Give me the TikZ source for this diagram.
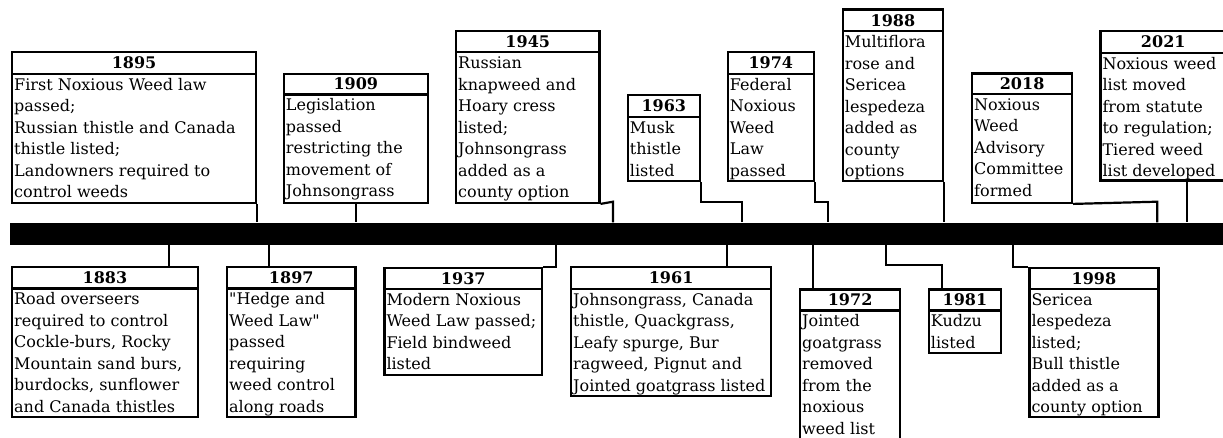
\documentclass[tikz,border=0pt]{standalone}
\usepackage{fontspec}
\setmainfont{DejaVu Serif}[Ligatures=TeXOff]
\tikzset{
  yearbox/.style={draw, line width=2.2pt, inner sep=0pt, font=\bfseries\fontsize{16}{21.5}\selectfont},
  bodybox/.style={draw, line width=2.2pt, inner sep=0pt},
  bodytext/.style={align=left, inner xsep=3pt, inner ysep=2.3pt, font=\fontsize{16}{21.5}\selectfont},
  link/.style={draw, line width=2.2pt},
  barstyle/.style={fill=black, draw=none, inner sep=0pt},
}
\newcommand\tlbox[8]{%
  \pgfmathsetmacro\tlw{#4-#2}%
  \pgfmathsetmacro\tlhh{#5-#3}%
  \pgfmathsetmacro\tlbh{#6-#5}%
  \node[yearbox, minimum width=\tlw pt, minimum height=\tlhh pt, anchor=north west] (#1h) at (#2,#3) {#7};
  \node[bodybox, minimum width=\tlw pt, minimum height=\tlbh pt, anchor=north west] (#1) at (#2,#5) {};
  \node[bodytext, anchor=north west] (#1t) at (#1.north west) {\strut #8};
}
\begin{document}
\begin{tikzpicture}[x=1pt, y=-1pt]
\useasboundingbox (0,0) rectangle (1223,437);
\fill[white] (0,0) rectangle (1223,437);

% timeline bar
\node[barstyle, minimum width=1215pt, minimum height=22pt, anchor=north west] (bar) at (10,222.3) {};

% upper events
\tlbox{e1895}{11}{51}{255}{72.7}{201.7}{1895}{First Noxious Weed law\\passed;\\Russian thistle and Canada\\thistle listed;\\Landowners required to\\control weeds}
\tlbox{e1909}{282.7}{72.7}{426.7}{93.3}{201.7}{1909}{Legislation\\passed\\restricting the\\movement of\\Johnsongrass}
\tlbox{e1945}{455}{30}{598.3}{51}{201.7}{1945}{Russian\\knapweed and\\Hoary cress\\listed;\\Johnsongrass\\added as a\\county option}
\tlbox{e1963}{626.7}{94}{698.7}{115.7}{180}{1963}{Musk\\thistle\\listed}
\tlbox{e1974}{726.7}{51}{812.7}{72.7}{180}{1974}{Federal\\Noxious\\Weed\\Law\\passed}
\tlbox{e1988}{841.7}{8.3}{942}{30}{180}{1988}{Multiflora\\rose and\\Sericea\\lespedeza\\added as\\county\\options}
\tlbox{e2018}{971}{72.3}{1071}{92.7}{201.7}{2018}{Noxious\\Weed\\Advisory\\Committee\\formed}
\tlbox{e2021}{1099.3}{30}{1225}{51.7}{179.3}{2021}{Noxious weed\\list moved\\from statute\\to regulation;\\Tiered weed\\list developed}

% lower events
\tlbox{e1883}{11}{265.7}{196.7}{287.3}{415.7}{1883}{Road overseers\\required to control\\Cockle-burs, Rocky\\Mountain sand burs,\\burdocks, sunflower\\and Canada thistles}
\tlbox{e1897}{226}{265.7}{354.3}{287.3}{415.7}{1897}{"Hedge and\\Weed Law"\\passed\\requiring\\weed control\\along roads}
\tlbox{e1937}{383.3}{266.7}{541}{287.7}{374}{1937}{Modern Noxious\\Weed Law passed;\\Field bindweed\\listed}
\tlbox{e1961}{570}{266}{770}{287.7}{395}{1961}{Johnsongrass, Canada\\thistle, Quackgrass,\\Leafy spurge, Bur\\ragweed, Pignut and\\Jointed goatgrass listed}
\tlbox{e1972}{799}{288.3}{899}{309.3}{442}{1972}{Jointed\\goatgrass\\removed\\from the\\noxious\\weed list}
\tlbox{e1981}{927.7}{288.3}{1000}{309.3}{351.7}{1981}{Kudzu\\listed}
\tlbox{e1998}{1028.3}{266.7}{1157.3}{287.7}{416}{1998}{Sericea\\lespedeza\\listed;\\Bull thistle\\added as a\\county option}

% connector helper points
\coordinate (k1945) at (613,201.7);
\coordinate (k1963) at (742,201.7);
\coordinate (k1974) at (828.3,201.7);
\coordinate (k2018) at (1157.3,201.7);
\coordinate (k2021) at (1186.7,179.3);
\coordinate (k1883) at (169,265.7);
\coordinate (k1897) at (269,265.7);
\coordinate (k1937) at (555.7,266.7);
\coordinate (k1961) at (726.7,266);
\coordinate (k1972) at (812.7,288.3);
\coordinate (k1981) at (885.7,265);
\coordinate (k1981b) at (942.3,265);
\coordinate (k1998) at (1013.3,266.7);

% upper connectors
\draw[link] (e1895.south east) -- (e1895.south east |- bar.north);
\draw[link] (e1909.south) -- (e1909.south |- bar.north);
\draw[link] (e1945.south east) -- (k1945) -- (k1945 |- bar.north);
\draw[link] (e1963.south east) |- (k1963) -- (k1963 |- bar.north);
\draw[link] (e1974.south east) |- (k1974) -- (k1974 |- bar.north);
\draw[link] (e1988.south east) -- (e1988.south east |- bar.north);
\draw[link] (e2018.south east) -- (k2018) -- (k2018 |- bar.north);
\draw[link] (k2021 |- e2021.south) -- (k2021 |- bar.north);

% lower connectors
\draw[link] (bar.south -| k1883) -- (e1883h.north -| k1883);
\draw[link] (bar.south -| k1897) -- (e1897h.north -| k1897);
\draw[link] (bar.south -| k1937) |- (e1937h.north east);
\draw[link] (bar.south -| k1961) -- (e1961h.north -| k1961);
\draw[link] (bar.south -| k1972) -- (e1972h.north -| k1972);
\draw[link] (bar.south -| k1981) -- (k1981) -- (k1981b) -- (k1981b |- e1981h.north);
\draw[link] (bar.south -| k1998) |- (e1998h.north west);
\end{tikzpicture}
\end{document}
